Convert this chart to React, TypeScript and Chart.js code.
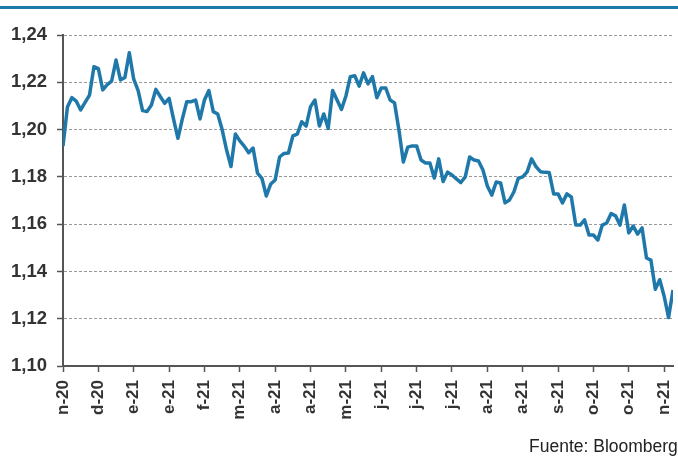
import React, { useEffect, useRef } from "react";
import { Chart, registerables } from "chart.js";

Chart.register(...registerables);

const tickLabels = [
  "n-20", "d-20", "e-21", "e-21", "f-21", "m-21", "a-21", "a-21", "m-21",
  "j-21", "j-21", "j-21", "a-21", "a-21", "s-21", "o-21", "o-21", "n-21",
];

const pointsPerTick = 8;

const eurUsd = [
  1.1930, 1.2095, 1.2135, 1.2120, 1.2083, 1.2115, 1.2146, 1.2266, 1.2258, 1.2168,
  1.2190, 1.2205, 1.2294, 1.2210, 1.2220, 1.2325, 1.2213, 1.2165, 1.2080, 1.2076,
  1.2104, 1.2170, 1.2140, 1.2111, 1.2132, 1.2045, 1.1963, 1.2045, 1.2118, 1.2118,
  1.2125, 1.2045, 1.2125, 1.2165, 1.2076, 1.2066, 1.2000, 1.1914, 1.1844, 1.1981,
  1.1952, 1.1930, 1.1902, 1.1922, 1.1816, 1.1794, 1.1719, 1.1770, 1.1787, 1.1884,
  1.1899, 1.1901, 1.1973, 1.1981, 1.2033, 1.2015, 1.2097, 1.2125, 1.2015, 1.2066,
  1.2005, 1.2165, 1.2125, 1.2085, 1.2142, 1.2224, 1.2228, 1.2184, 1.2240, 1.2193,
  1.2224, 1.2135, 1.2176, 1.2176, 1.2125, 1.2113, 1.1998, 1.1863, 1.1926, 1.1931,
  1.1931, 1.1871, 1.1859, 1.1859, 1.1795, 1.1876, 1.1780, 1.1820, 1.1808, 1.1791,
  1.1776, 1.1800, 1.1884, 1.1871, 1.1867, 1.1829, 1.1761, 1.1723, 1.1778, 1.1774,
  1.1690, 1.1702, 1.1736, 1.1794, 1.1800, 1.1821, 1.1876, 1.1843, 1.1822, 1.1819,
  1.1818, 1.1728, 1.1728, 1.1690, 1.1728, 1.1715, 1.1596, 1.1596, 1.1618, 1.1554,
  1.1554, 1.1533, 1.1596, 1.1605, 1.1645, 1.1635, 1.1596, 1.1681, 1.1563, 1.1592,
  1.1558, 1.1584, 1.1457, 1.1448, 1.1325, 1.1365, 1.1295, 1.1205, 1.1321,
];

const yMin = 1.1;
const yMax = 1.24;
const yStep = 0.02;

const BLUE = "#1f78aa";
const FONT = "'Liberation Sans', Arial, sans-serif";
const TEXT = "#333333";
const AXIS = "#555555";

export default function App() {
  const canvasRef = useRef<HTMLCanvasElement | null>(null);

  useEffect(() => {
    const canvas = canvasRef.current;
    if (!canvas) return;
    const points = eurUsd.map((v, i) => ({ x: i, y: v }));
    const chart = new Chart(canvas, {
      type: "line",
      data: {
        datasets: [
          {
            data: points,
            borderColor: BLUE,
            borderWidth: 3.5,
            pointRadius: 0,
            tension: 0,
            fill: false,
            borderJoinStyle: "round",
          },
        ],
      },
      options: {
        animation: false,
        responsive: false,
        maintainAspectRatio: false,
        layout: { padding: { top: 35, right: 5, bottom: 0, left: 0 } },
        plugins: { legend: { display: false }, tooltip: { enabled: false } },
        scales: {
          x: {
            type: "linear",
            min: 0,
            max: eurUsd.length - 1,
            afterFit: (s: any) => {
              s.height = 90;
              s.paddingLeft = 0;
              s.paddingRight = 0;
            },
            border: { display: true, color: AXIS, width: 2 },
            grid: {
              drawOnChartArea: false,
              drawTicks: true,
              tickLength: 6,
              tickColor: AXIS,
              tickWidth: 1.5,
            },
            ticks: {
              stepSize: pointsPerTick,
              includeBounds: false,
              autoSkip: false,
              maxRotation: 90,
              minRotation: 90,
              padding: 8,
              color: TEXT,
              font: { family: FONT, size: 17, weight: "bold" },
              callback: (v: any) => {
                const idx = Math.round(Number(v) / pointsPerTick);
                return tickLabels[idx] ?? "";
              },
            },
          },
          y: {
            min: yMin,
            max: yMax,
            afterFit: (s: any) => {
              s.width = 63;
              s.paddingTop = 0;
              s.paddingBottom = 0;
            },
            border: { display: true, color: AXIS, width: 2, dash: [3, 2] },
            grid: {
              color: "#9a9a9a",
              lineWidth: 1,
              drawTicks: true,
              tickLength: 6,
              tickColor: AXIS,
              tickWidth: 1.5,
              tickBorderDash: [],
            },
            ticks: {
              stepSize: yStep,
              padding: 10,
              color: TEXT,
              font: { family: FONT, size: 18.5, weight: "bold" },
              callback: (v: any) => Number(v).toFixed(2).replace(".", ","),
            },
          },
        },
      },
    });
    return () => chart.destroy();
  }, []);

  return (
    <div
      style={{
        position: "fixed",
        left: 0,
        top: 0,
        width: 678,
        height: 456,
        overflow: "hidden",
        background: "#ffffff",
      }}
    >
      <div
        style={{
          position: "absolute",
          left: 0,
          top: 6,
          width: 678,
          height: 3,
          background: BLUE,
        }}
      />
      <canvas
        ref={canvasRef}
        width={678}
        height={456}
        style={{ position: "absolute", left: 0, top: 0, width: 678, height: 456 }}
      />
      <div
        style={{
          position: "absolute",
          left: 529,
          top: 438,
          whiteSpace: "nowrap",
          fontFamily: FONT,
          fontSize: 17.5,
          lineHeight: "17px",
          color: "#222222",
        }}
      >
        Fuente: Bloomberg
      </div>
    </div>
  );
}
